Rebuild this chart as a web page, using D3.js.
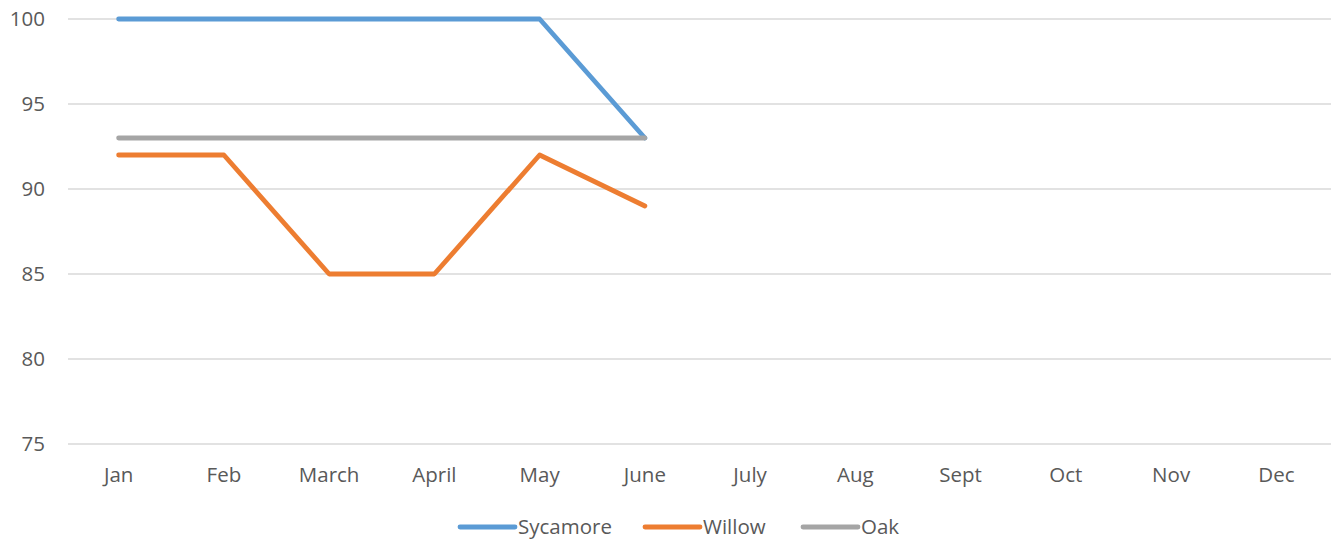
<!DOCTYPE html>
<html><head><meta charset="utf-8">
<script src="https://cdn.jsdelivr.net/npm/d3@7"></script>
<style>body{margin:0;background:#fff}svg{display:block}text{font-family:"Open Sans","Liberation Sans",sans-serif;fill:#595959}</style>
</head><body><svg id="c" width="1333" height="543"></svg>
<script>
const months = ["Jan","Feb","March","April","May","June","July","Aug","Sept","Oct","Nov","Dec"];
const sycamore = [100,100,100,100,100,93];
const willow = [92,92,85,85,92,89];
const oak = [93,93,93,93,93,93];
const yTicks = [75,80,85,90,95,100];
const seriesNames = ["Sycamore","Willow","Oak"];
const colors = ["#5B9BD5","#ED7D31","#A5A5A5"];

const svg = d3.select("#c");
const x = d3.scaleBand().domain(months).range([68,1331]);
const y = d3.scaleLinear().domain([75,100]).range([444,19]);

svg.append("g").selectAll("line").data(yTicks).join("line")
  .attr("x1",68).attr("x2",1331).attr("y1",d=>y(d)).attr("y2",d=>y(d))
  .attr("stroke","#D9D9D9").attr("stroke-width",1.3);

svg.append("g").selectAll("text").data(yTicks).join("text")
  .attr("x",45).attr("y",d=>y(d)).attr("dy","0.35em").attr("text-anchor","end")
  .attr("font-size",20.5).text(d=>d);

svg.append("g").selectAll("text").data(months).join("text")
  .attr("x",d=>x(d)+x.bandwidth()/2-2).attr("y",482).attr("text-anchor","middle")
  .attr("font-size",20.5).text(d=>d);

const line = d3.line().x((d,i)=>x(months[i])+x.bandwidth()/2-2).y(d=>y(d));
const data = [sycamore, willow, oak];
data.forEach((s,i)=>{
  svg.append("path").datum(s).attr("d",line).attr("fill","none")
    .attr("stroke",colors[i]).attr("stroke-width",4.8)
    .attr("stroke-linejoin","round").attr("stroke-linecap","round");
});

const legX = [460,645,803];
const lg = svg.append("g");
seriesNames.forEach((n,i)=>{
  lg.append("line").attr("x1",legX[i]).attr("x2",legX[i]+55).attr("y1",527).attr("y2",527)
    .attr("stroke",colors[i]).attr("stroke-width",4.8).attr("stroke-linecap","round");
  lg.append("text").attr("x",legX[i]+58).attr("y",527).attr("dy","0.35em")
    .attr("font-size",20.5).text(n);
});
</script></body></html>
